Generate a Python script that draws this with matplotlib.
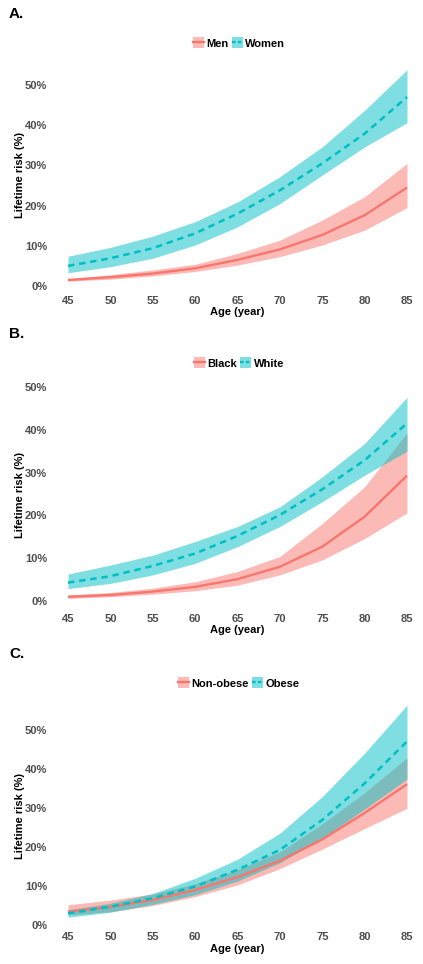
import numpy as np
import matplotlib
matplotlib.use("Agg")
from matplotlib import pyplot as plt
from matplotlib.patches import Patch
from matplotlib.lines import Line2D
from matplotlib.ticker import PercentFormatter

plt.rcParams['font.family'] = ['Liberation Sans', 'DejaVu Sans']

RED = '#F8766D'
TEAL = '#00BFC4'

age = [45, 50, 55, 60, 65, 70, 75, 80, 85]
x_ticks = [45, 50, 55, 60, 65, 70, 75, 80, 85]
y_ticks = [0, 10, 20, 30, 40, 50]

# Panel A: sex
men_mean = [1.5, 2.2, 3.1, 4.4, 6.5, 9.1, 12.7, 17.6, 24.5]
men_lo = [1.2, 1.7, 2.5, 3.6, 5.2, 7.3, 10.2, 13.9, 19.5]
men_hi = [1.8, 2.8, 4.0, 5.4, 8.1, 11.4, 16.4, 22.2, 30.5]
women_mean = [5.0, 6.9, 9.4, 13.1, 18.0, 23.8, 30.5, 37.9, 47.0]
women_lo = [3.3, 4.8, 6.9, 10.2, 14.7, 20.5, 27.6, 34.6, 40.6]
women_hi = [7.4, 9.6, 12.4, 16.0, 20.9, 27.2, 34.6, 43.7, 53.8]

# Panel B: race
black_mean = [1.0, 1.4, 2.2, 3.3, 5.1, 8.0, 12.7, 19.7, 29.3]
black_lo = [0.6, 1.0, 1.6, 2.4, 3.7, 6.1, 9.6, 14.6, 20.6]
black_hi = [1.4, 2.0, 3.0, 4.5, 6.9, 10.4, 18.1, 26.7, 39.3]
white_mean = [4.3, 5.8, 8.2, 11.1, 15.2, 20.1, 26.1, 32.9, 41.5]
white_lo = [2.9, 4.1, 6.1, 8.8, 12.7, 17.4, 23.2, 29.4, 35.0]
white_hi = [6.3, 8.4, 10.7, 13.9, 17.4, 22.0, 29.0, 36.8, 47.6]

# Panel C: obesity
nonob_mean = [3.4, 4.7, 6.4, 9.0, 12.3, 16.5, 22.0, 28.8, 36.2]
nonob_lo = [2.6, 3.4, 5.0, 7.3, 10.3, 14.5, 19.5, 24.8, 30.0]
nonob_hi = [5.2, 6.4, 8.0, 10.6, 14.2, 18.8, 26.0, 34.0, 43.0]
ob_mean = [3.0, 4.7, 6.9, 9.9, 14.2, 19.3, 27.0, 36.4, 47.2]
ob_lo = [2.0, 3.3, 5.3, 7.8, 11.3, 16.0, 22.3, 29.8, 37.5]
ob_hi = [3.9, 5.6, 8.1, 12.0, 16.9, 23.6, 33.0, 44.2, 56.5]

panels = [
    ('A.', ['Men', 'Women'], (men_mean, men_lo, men_hi), (women_mean, women_lo, women_hi)),
    ('B.', ['Black', 'White'], (black_mean, black_lo, black_hi), (white_mean, white_lo, white_hi)),
    ('C.', ['Non-obese', 'Obese'], (nonob_mean, nonob_lo, nonob_hi), (ob_mean, ob_lo, ob_hi)),
]

W, H = 423, 964
fig = plt.figure(figsize=(W / 100, H / 100), dpi=100)

# layout per panel (pixels): offset, zero line y, px per 1%, ylim top, tick pad
layout = [
    (0, 286, 4.02, 56, 4.0),
    (320, 601, 4.28, 50.5, 6.0),
    (640, 925, 3.89, 57, 2.5),
]
x_left, x_right = 68, 407

for (label, names, s1, s2), (off, y0, ppu, ytop, tpad) in zip(panels, layout):
    ylo = -1.0
    top_px = y0 - ytop * ppu
    bot_px = y0 - ylo * ppu
    ax = fig.add_axes([x_left / W, 1 - bot_px / H,
                       (x_right - x_left) / W, (bot_px - top_px) / H])
    ax.fill_between(age, s1[1], s1[2], color=RED, alpha=0.5, lw=0)
    ax.fill_between(age, s2[1], s2[2], color=TEAL, alpha=0.5, lw=0)
    ax.plot(age, s1[0], color=RED, lw=1.7, clip_on=False, solid_capstyle='butt')
    ax.plot(age, s2[0], color=TEAL, lw=1.8, ls=(0, (2.6, 1.9)), clip_on=False)
    ax.set_xlim(45, 85)
    ax.set_ylim(ylo, ytop)
    ax.set_xticks(x_ticks)
    ax.set_yticks(y_ticks)
    ax.yaxis.set_major_formatter(PercentFormatter(decimals=0))
    for sp in ax.spines.values():
        sp.set_visible(False)
    ax.tick_params(length=0, labelsize=8, labelcolor='#4D4D4D')
    ax.tick_params(axis='x', pad=tpad)
    ax.tick_params(axis='y', pad=15)
    for t in ax.get_xticklabels() + ax.get_yticklabels():
        t.set_fontweight('bold')
    ax.set_xlabel('Age (year)', fontsize=8, fontweight='bold', labelpad=1)
    ax.set_ylabel('Lifetime risk (%)', fontsize=8, fontweight='bold')
    ax.yaxis.set_label_coords((25 - x_left) / (x_right - x_left), 0.5)

    fig.text(9 / W, 1 - (off + 14) / H, label, fontsize=11, fontweight='bold', va='center')

    handles = [
        (Patch(facecolor=RED, alpha=0.5, lw=0), Line2D([], [], color=RED, lw=1.7)),
        (Patch(facecolor=TEAL, alpha=0.5, lw=0), Line2D([], [], color=TEAL, lw=1.7, ls=(0, (1.5, 1.0)))),
    ]
    fig.legend(handles, names, loc='center', bbox_to_anchor=(239 / W, 1 - (off + 43) / H),
               ncol=2, frameon=False, prop={'size': 8, 'weight': 'bold'},
               handlelength=1.0, handleheight=1.1, handletextpad=0.2, columnspacing=0.3)

fig.savefig('out.png', dpi=100)
